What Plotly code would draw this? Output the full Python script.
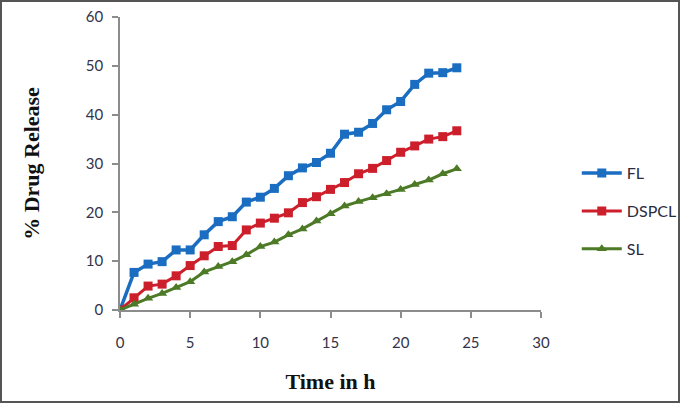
import plotly.graph_objects as go

# Time points (h) and % drug release
HOURS = list(range(0, 25))
FL = [0, 7.7, 9.4, 9.9, 12.3, 12.3, 15.4, 18.1, 19.1, 22.1, 23.1, 24.9, 27.5,
      29.1, 30.2, 32.1, 36.0, 36.4, 38.2, 41.0, 42.7, 46.2, 48.5, 48.6, 49.6]
DSPCL = [0, 2.5, 4.9, 5.3, 7.0, 9.1, 11.1, 13.0, 13.2, 16.4, 17.8, 18.8, 19.9,
         22.0, 23.2, 24.7, 26.1, 27.9, 29.0, 30.6, 32.3, 33.6, 35.0, 35.5, 36.7]
SL = [0, 1.2, 2.4, 3.4, 4.6, 5.8, 7.8, 8.9, 9.9, 11.3, 13.0, 13.9, 15.4,
      16.6, 18.2, 19.7, 21.3, 22.2, 23.0, 23.8, 24.7, 25.7, 26.6, 27.9, 28.9]

X_TICKS = [0, 5, 10, 15, 20, 25, 30]
Y_TICKS = [0, 10, 20, 30, 40, 50, 60]

SERIES = [
    ("FL", FL, "#1A6DC0", "square", 3.5),
    ("DSPCL", DSPCL, "#CD1F2B", "square", 3),
    ("SL", SL, "#4D7A27", "triangle-up", 3),
]

TICK_FONT = dict(family="Lato, Open Sans, sans-serif", size=15, color="#33334a")
TITLE_FONT = dict(family="Liberation Serif, Times New Roman, serif", size=22, color="#111111")

fig = go.Figure()
for name, vals, color, symbol, width in SERIES:
    fig.add_trace(
        go.Scatter(
            x=HOURS,
            y=vals,
            name=name,
            legendgroup=name,
            mode="lines+markers",
            line=dict(color=color, width=width),
            marker=dict(symbol=symbol, size=9, color=color),
        )
    )

fig.update_layout(
    width=680,
    height=403,
    margin=dict(l=120, r=139, t=17, b=93, autoexpand=False),
    paper_bgcolor="white",
    plot_bgcolor="white",
    showlegend=True,
    legend=dict(
        x=1.085, y=0.525, xanchor="left", yanchor="top",
        font=dict(family="Lato, Open Sans, sans-serif", size=16, color="#2a2a40"),
        tracegroupgap=14, itemwidth=40,
        bgcolor="rgba(0,0,0,0)",
    ),
    xaxis=dict(
        range=[0, 30], tickvals=X_TICKS, showgrid=False, zeroline=False,
        showline=True, linecolor="#8c8c8c", linewidth=1.5,
        ticks="outside", ticklen=6, tickcolor="#8c8c8c", tickwidth=1.5,
        tickfont=TICK_FONT, ticklabelstandoff=12, automargin=False,
        title=dict(text="<b>Time in h</b>", font=TITLE_FONT, standoff=24),
    ),
    yaxis=dict(
        range=[0, 60], tickvals=Y_TICKS, showgrid=False, zeroline=False,
        showline=True, linecolor="#8c8c8c", linewidth=1.5,
        ticks="outside", ticklen=6, tickcolor="#8c8c8c", tickwidth=1.5,
        tickfont=TICK_FONT, ticklabelstandoff=6, automargin=False,
        title=dict(text="<b>% Drug Release</b>", font=TITLE_FONT, standoff=40),
    ),
)

# dark frame around the whole picture
fig.add_shape(
    type="rect", xref="paper", yref="paper",
    x0=-119 / 421, x1=559 / 421, y0=-92 / 293, y1=1 + 16 / 293,
    line=dict(color="#555555", width=2), fillcolor="rgba(0,0,0,0)",
)

# drop the page's default body margin so the figure fills the window
fig.write_html(
    "out.html",
    config={"displayModeBar": False},
    post_script="document.body.style.margin='0';",
)
